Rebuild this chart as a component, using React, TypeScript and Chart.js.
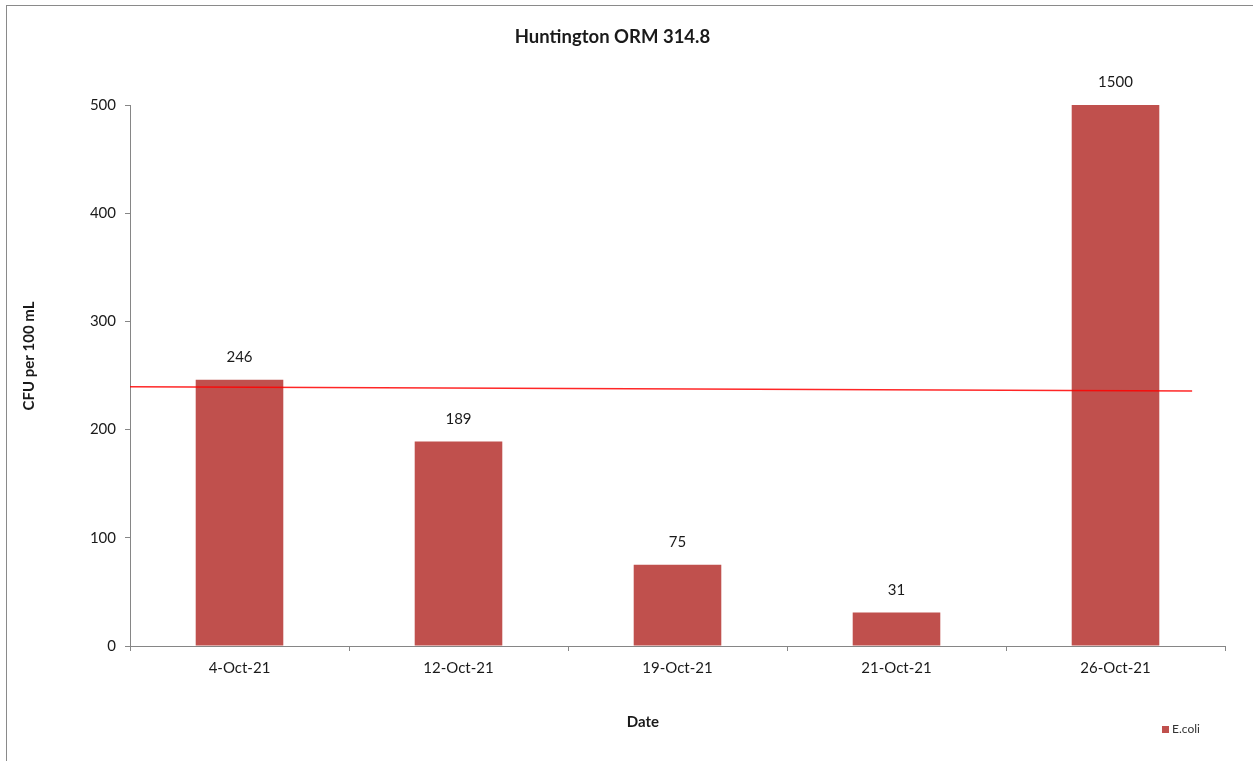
import React, { useEffect, useRef } from "react";
import { Chart, registerables } from "chart.js";

Chart.register(...registerables);

const categories = ["4-Oct-21", "12-Oct-21", "19-Oct-21", "21-Oct-21", "26-Oct-21"];
const ecoliValues = [246, 189, 75, 31, 1500];
const yTicks = [0, 100, 200, 300, 400, 500];
const lineXs = [0, 4.85];
const lineYs = [239.5, 235.7];

const FONT = "Lato, 'Open Sans', 'Liberation Sans', sans-serif";
const BAR_COLOR = "#C0504D";
const AXIS_COLOR = "#868686";
const TEXT_COLOR = "#1a1a1a";

const dataLabelPlugin = {
  id: "dataLabels",
  afterDatasetsDraw(chart: any) {
    const ctx = chart.ctx;
    const idx = chart.data.datasets.findIndex((d: any) => d.label === "E.coli");
    const meta = chart.getDatasetMeta(idx);
    const area = chart.chartArea;
    ctx.save();
    ctx.font = `15px ${FONT}`;
    ctx.fillStyle = TEXT_COLOR;
    ctx.textAlign = "center";
    ctx.textBaseline = "bottom";
    meta.data.forEach((el: any, i: number) => {
      const top = Math.max(el.y, area.top);
      ctx.fillText(String(ecoliValues[i]), el.x, top - 15);
    });
    ctx.restore();
  },
};

const axisTitlePlugin = {
  id: "axisTitles",
  afterDraw(chart: any) {
    const ctx = chart.ctx;
    ctx.save();
    ctx.font = `bold 15px ${FONT}`;
    ctx.fillStyle = TEXT_COLOR;
    ctx.textAlign = "center";
    ctx.textBaseline = "middle";
    ctx.fillText("Date", 643, 722);
    ctx.translate(29, 356);
    ctx.rotate(-Math.PI / 2);
    ctx.fillText("CFU per 100 mL", 0, 0);
    ctx.restore();
  },
};

export default function App() {
  const ref = useRef<HTMLCanvasElement | null>(null);
  useEffect(() => {
    if (!ref.current) return;
    const chart = new Chart(ref.current, {
      type: "bar",
      data: {
        labels: categories,
        datasets: [
          {
            type: "line",
            label: "Threshold",
            data: lineXs.map((x, i) => ({ x, y: lineYs[i] })),
            xAxisID: "x2",
            borderColor: "rgba(255,0,0,0.85)",
            borderWidth: 1.5,
            pointRadius: 0,
            fill: false,
            order: 0,
          } as any,
          {
            type: "bar",
            label: "E.coli",
            data: ecoliValues,
            backgroundColor: BAR_COLOR,
            borderWidth: 0,
            barPercentage: 0.4,
            categoryPercentage: 1,
            grouped: false,
            order: 1,
          } as any,
        ],
      },
      plugins: [dataLabelPlugin, axisTitlePlugin],
      options: {
        animation: false,
        responsive: false,
        layout: { padding: { left: 0, right: 28, top: 0, bottom: 0 } },
        plugins: {
          legend: { display: false },
          tooltip: { enabled: false },
          title: {
            display: true,
            text: "Huntington ORM 314.8",
            color: TEXT_COLOR,
            font: { family: FONT, size: 18.5, weight: "bold" },
            padding: { top: 26, bottom: 56.8 },
          },
        },
        scales: {
          x: {
            type: "category",
            grid: {
              display: true,
              drawOnChartArea: false,
              drawTicks: true,
              tickLength: 5,
              color: AXIS_COLOR,
              offset: true,
            },
            border: { display: true, color: AXIS_COLOR, width: 1 },
            ticks: {
              color: TEXT_COLOR,
              font: { family: FONT, size: 15 },
              padding: 8,
              maxRotation: 0,
            },
            afterFit(scale: any) {
              scale.height = 115;
            },
          },
          x2: {
            type: "linear",
            display: false,
            offset: false,
            min: 0,
            max: 5,
          },
          y: {
            min: 0,
            max: 500,
            afterBuildTicks(scale: any) {
              scale.ticks = yTicks.map((v) => ({ value: v }));
            },
            grid: {
              display: true,
              drawOnChartArea: false,
              drawTicks: true,
              tickLength: 5,
              color: AXIS_COLOR,
            },
            border: { display: true, color: AXIS_COLOR, width: 1 },
            ticks: {
              color: TEXT_COLOR,
              font: { family: FONT, size: 15 },
              padding: 9,
            },
            afterFit(scale: any) {
              scale.width = 130;
            },
          },
        },
      },
    });
    return () => chart.destroy();
  }, []);

  return (
    <div
      style={{
        position: "fixed",
        left: 0,
        top: 0,
        width: 1253,
        height: 761,
        background: "#fff",
        overflow: "hidden",
      }}
    >
      <div
        style={{
          position: "absolute",
          left: 6,
          top: 5,
          width: 1400,
          height: 900,
          borderTop: "1.5px solid #8a8a8a",
          borderLeft: "1.5px solid #8a8a8a",
        }}
      />
      <canvas
        ref={ref}
        width={1253}
        height={761}
        style={{ position: "absolute", left: 0, top: 0, display: "block" }}
      />
      <div
        style={{
          position: "absolute",
          left: 1162,
          top: 721,
          display: "flex",
          alignItems: "center",
          fontFamily: FONT,
          fontSize: 12,
          color: "#333",
          lineHeight: "16px",
        }}
      >
        <span
          style={{
            display: "inline-block",
            width: 7,
            height: 7,
            background: BAR_COLOR,
            marginRight: 3,
          }}
        />
        <span>E.coli</span>
      </div>
    </div>
  );
}
